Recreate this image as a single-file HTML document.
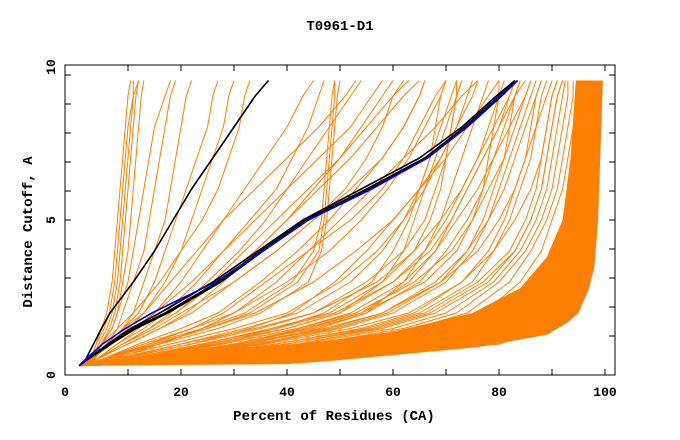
<!DOCTYPE html>
<html><head><meta charset="utf-8"><style>
html,body{margin:0;padding:0;background:#fff;}
svg{display:block;font-family:"Liberation Mono",monospace;font-weight:bold;}
</style></head><body>
<svg id="chart" width="680" height="440" viewBox="0 0 680 440">
<text x="340" y="30" text-anchor="middle" font-size="14">T0961-D1</text>
<text x="334" y="420" text-anchor="middle" font-size="14">Percent of Residues (CA)</text>
<text transform="translate(32,232) rotate(-90)" text-anchor="middle" font-size="14">Distance Cutoff, A</text>
<g id="series"></g>
<g id="axes"></g>
</svg>
<script>
const cutoffs=[0.3,0.5,1,1.5,2,3,4,5,6,7,8,9,9.5];
const xTicks=[10,20,30,40,50,60,70,80,90,100];
const xTickLabels=["0","20","40","60","80","100"];
const yTickLabels=["0","5","10"];
const bandLower=[[0.8,0.3],[40,0.35],[50,0.48],[76,0.9],[89,1.3],[93,1.7],[95,2.0],[97,2.8],[98,3.5],[98.7,5],[99.6,9.5]];
const bandUpper=[[94.5,9.5],[93.5,7],[92,5],[89,3.8],[84,2.8],[75,2.0],[60,1.4],[45,1.05],[30,0.85],[15,0.6],[0.8,0.3]];
const orangeCurves=[
[0.8,3,4,5,6,7,7.5,8,8.5,9,9.5,10,10.5],
[0.8,3,4.5,6,7,8,8.5,9,9.5,10,10.5,11,11],
[0.8,3,5,6.5,7.5,8.5,9,9.5,10,10.5,11,11.5,12],
[0.8,3,4,5.5,6.5,7.5,8,8.5,9,9.5,10,11,12],
[0.8,3,5,7,8,9,10,10.5,11,11.5,12,12.5,13],
[0.8,3.5,5,7,8,10,11,12,13,14,15,17,18],
[0.8,3.5,6,8,9,11,13,14,15,16,17,18,19],
[0.8,3.5,6,9,11,13,15,17,18,19,20,21,22],
[0.8,3.5,6,9,12,15,17,19,21,23,25,26,27],
[0.8,3.5,6,10,13,17,20,22,24,26,28,29,30],
[0.8,4,8,12,15,20,24,28,32,36,40,43,45],
[0.8,4,8,13,17,23,28,33,38,41,44,46,47],
[0.8,4,9,14,18,25,31,36,40,44,48,52,54],
[0.8,4,9,14,19,27,34,40,46,52,57,62,65],
[0.8,4,10,16,22,30,38,45,51,55,58,60,62],
[0.8,4,10,16,21,28,34,40,45,50,54,58,60],
[0.8,4,9,14,19,26,32,38,44,50,55,60,63],
[0.8,4,9,15,20,30,38,45,52,58,62,65,66],
[0.8,3,7,11,15,22,28,34,40,46,52,56,58],
[0.8,3,6,9,13,18,23,28,34,40,46,51,53],
[0.8,3,5,8,11,16,20,24,27,29,31,32,33],
[0.8,5,15,25,33,42,46,47,47.5,48,48.5,49,49],
[0.8,5,16,27,35,44,46.5,47.5,48,48.5,49,49.5,50],
[0.8,5,14,24,32,41,45,46.5,47,47.5,48,48.5,49],
[0.8,10,25,40,50,60,66,70,73,76,78,80,81],
[0.8,12,30,45,55,65,70,74,77,79,81,83,84],
[0.8,10,28,42,52,62,68,72,76,79,82,85,86],
[0.8,14,35,50,60,70,75,78,80,82,84,86,87],
[0.8,15,38,55,65,75,79,82,84,86,87,88,89],
[0.8,8,22,35,45,55,62,66,68,70,71,72,72],
[0.8,8,20,32,42,52,58,62,65,67,68,69,70],
[0.8,12,32,48,58,68,74,78,81,83,85,87,88],
[0.8,18,42,58,68,78,83,86,88,89,90,91,92],
[0.8,20,45,62,72,80,85,88,90,91,92,93,93],
[0.8,16,40,56,66,76,82,85,87,88,89,90,91],
[0.8,10,26,38,47,56,60,63,65,67,69,71,72],
[0.8,9,24,37,48,58,64,67,69,70,71,72,73],
[0.8,13,33,46,55,62,66,69,71,73,75,77,78],
[0.8,22,48,64,74,82,86,89,91,92,93,94,94],
[0.8,25,52,68,77,84,88,90,92,93,94,95,95],
[0.8,11,30,43,54,66,72,75,77,78,79,80,80],
[0.8,7,16,24,30,38,44,50,56,62,68,73,76],
[0.8,6,14,22,28,36,44,52,58,62,65,68,70],
[0.8,6,18,30,40,50,57,62,66,69,72,74,75],
[0.8,7,20,34,45,57,64,69,73,76,79,82,83],
[0.8,9,24,38,49,60,67,71,74,77,80,83,85],
[0.8,11,28,42,53,64,71,75,78,81,83,85,86],
[0.8,13,31,47,58,69,76,80,83,85,87,89,90],
[0.8,15,36,52,63,73,79,83,86,88,89,90,91],
[0.8,17,40,57,67,77,83,86,88,89,90,91,92],
[0.8,19,43,60,70,79,84,87,89,90,91,92,92.5],
[0.8,8,22,33,41,49,55,60,65,70,74,78,80],
[0.8,10,27,40,50,58,62,64,66,68,70,72,73],
[0.8,12,30,44,54,63,68,71,74,77,80,82,83],
[0.8,14,34,49,59,69,74,77,79,81,82,83,84],
[0.8,16,38,54,64,73,78,81,83,85,86,87,88],
[0.8,6,15,25,34,45,53,60,65,69,72,75,76],
[0.8,5,13,22,30,40,48,54,59,63,66,69,70],
[0.8,5,12,20,27,35,42,48,53,58,62,65,66],
[0.8,30,65,80,86,91,93,94,95,95.5,96,96.5,97],
[0.8,35,72,84,89,93,95,96,96.5,97,97.5,98,98],
[0.8,40,76,87,91,94,96,97,97.5,98,98.5,99,99],
[0.8,45,80,89,93,95.5,97,97.5,98,98.5,99,99.3,99.5],
[0.8,28,60,76,84,90,92,93,94,94.5,95,95.5,96],
[0.8,33,68,80,87,92,94,95,95.5,96,96.5,97,97.5],
[0.8,38,74,85,90,93,95,96,96.5,97,97.5,98,98.5],
[0.8,26,58,73,81,88,91,92.5,93.5,94,94.5,95,95.5]
];
const blackCurves=[
[0.8,2,3.5,5,6.6,11,15,18.5,22,26,30,34,36.5],
[0.8,2,6.6,11,17,27,35,43.5,55,66,73.5,80,83],
[0.8,2.2,6.2,10.5,16,26,34.5,43,54,65,73,79.5,83],
[0.8,2.4,6.8,11.5,17.5,27.5,35.5,44,55.5,66.5,74,80.5,83.5]
];
const blueCurve=[0.8,2,5.2,9.5,14.5,26.5,35.5,44,56,66.5,74,80,83.5];

const X=p=>75+p*5.3, Y=c=>375-c*31;
const NS="http://www.w3.org/2000/svg";
const g=document.getElementById('series'), ax=document.getElementById('axes');
function mk(tag,attrs,parent){const e=document.createElementNS(NS,tag);for(const k in attrs)e.setAttribute(k,attrs[k]);parent.appendChild(e);return e;}
const band=mk('polygon',{points:bandLower.concat(bandUpper).map(p=>X(p[0])+','+Y(p[1])).join(' '),fill:'#ff8000'},g);


function curve(vals,color,w){
  const pts=vals.map((v,i)=>X(v)+','+Y(cutoffs[i])).join(' ');
  const e=mk('polyline',{points:pts,fill:'none',stroke:color,'stroke-width':w,'stroke-linejoin':'round'},g);
  return e;
}
orangeCurves.forEach(c=>{
  const e=curve(c,'#ff8000',1);
  
  
});
blackCurves.forEach(c=>{
  const e=curve(c,'#000',1.6);
  
  
});
const bl=curve(blueCurve,'#0000ff',1.6);


const fr=mk('rect',{x:65,y:65,width:550,height:310,fill:'none',stroke:'#000','stroke-width':1},ax);


xTicks.forEach(t=>{
  const t1=mk('line',{x1:X(t),x2:X(t),y1:375,y2:369,stroke:'#000'},ax);
  
  
  const t2=mk('line',{x1:X(t),x2:X(t),y1:65,y2:71,stroke:'#000'},ax);
  
  
});
for(let k=-5;k<=4;k++){const y=220+k*29;
  const a=mk('line',{x1:65,x2:71,y1:y,y2:y,stroke:'#000'},ax);
  
  
  const b=mk('line',{x1:615,x2:609,y1:y,y2:y,stroke:'#000'},ax);
  
  
}
xTickLabels.forEach(l=>{
  const v=+l; const x=v===0?65:X(v);
  const t=mk('text',{x:x,y:396,'text-anchor':'middle','font-size':'13'},ax);
  t.textContent=l;
  
  
});
yTickLabels.forEach(l=>{
  const v=+l; const y=v===10?67:375-v*31;
  const t=mk('text',{transform:'translate(55,'+y+') rotate(-90)','text-anchor':'middle','font-size':'13'},ax);
  t.textContent=l;
  
  
});
</script>
</body></html>
